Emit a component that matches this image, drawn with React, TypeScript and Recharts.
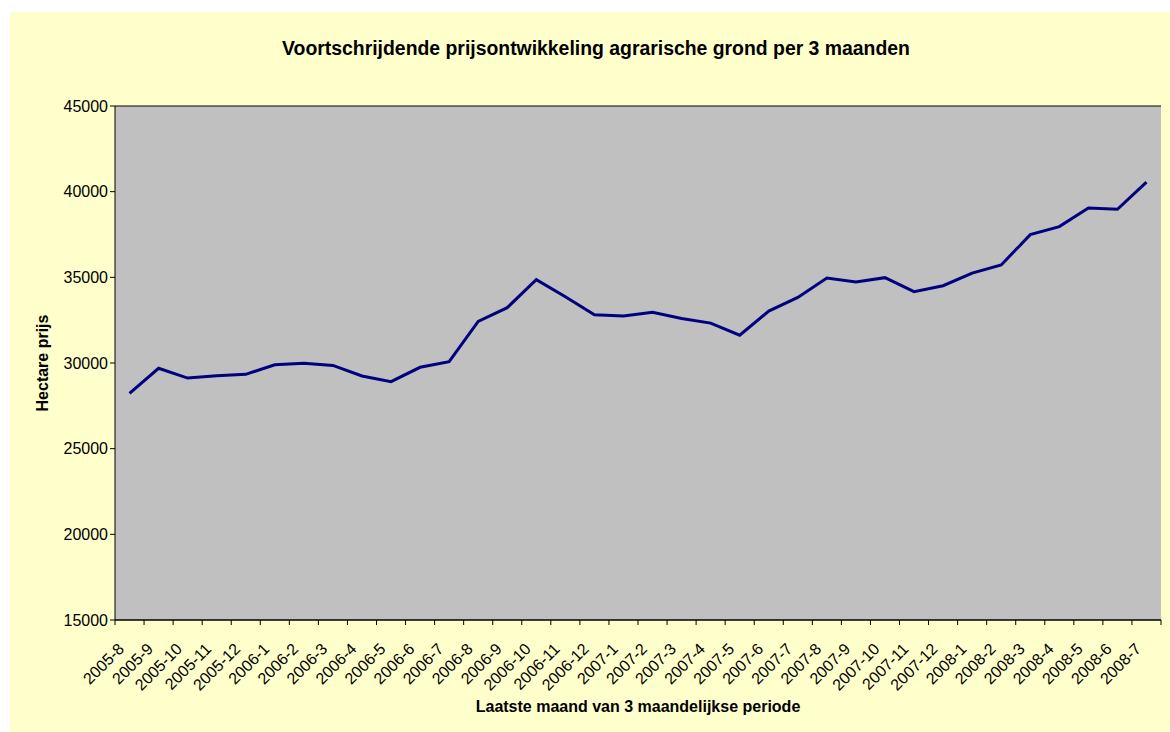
import { LineChart, Line, XAxis, YAxis, CartesianGrid } from 'recharts'

const months = [
  '2005-8', '2005-9', '2005-10', '2005-11', '2005-12',
  '2006-1', '2006-2', '2006-3', '2006-4', '2006-5', '2006-6',
  '2006-7', '2006-8', '2006-9', '2006-10', '2006-11', '2006-12',
  '2007-1', '2007-2', '2007-3', '2007-4', '2007-5', '2007-6',
  '2007-7', '2007-8', '2007-9', '2007-10', '2007-11', '2007-12',
  '2008-1', '2008-2', '2008-3', '2008-4', '2008-5', '2008-6', '2008-7',
]

const prices = [
  28230, 29690, 29120, 29260, 29340, 29900, 29980, 29860, 29240, 28910,
  29750, 30080, 32430, 33230, 34860, 33870, 32820, 32740, 32960, 32600,
  32330, 31620, 33030, 33830, 34960, 34730, 34980, 34160, 34510, 35250,
  35720, 37490, 37960, 39050, 38970, 40560,
]

const yTicks = [15000, 20000, 25000, 30000, 35000, 40000, 45000]

const W = 1160
const H = 720
const MARGIN = { top: 94, right: 9, bottom: 0, left: 0 }
const Y_W = 105
const X_H = 112
const PLOT_W = W - MARGIN.left - MARGIN.right - Y_W
const PLOT_BOTTOM = H - MARGIN.bottom - X_H
const BAND = PLOT_W / months.length

const font = '"Liberation Sans", Arial, sans-serif'

// Excel style: tick marks sit between the categories, labels at 45 degrees
function MonthTick(props: any) {
  const { x, payload, index } = props
  return (
    <g>
      {index === 0 && (
        <line x1={x - BAND / 2} x2={x - BAND / 2} y1={PLOT_BOTTOM} y2={PLOT_BOTTOM + 5} stroke="#000" />
      )}
      <line x1={x + BAND / 2} x2={x + BAND / 2} y1={PLOT_BOTTOM} y2={PLOT_BOTTOM + 5} stroke="#000" />
      <text
        transform={`translate(${x - 4.5},${PLOT_BOTTOM + 30}) rotate(-45)`}
        textAnchor="end"
        fontSize={16}
        fontFamily={font}
        fill="#000"
      >
        {payload.value}
      </text>
    </g>
  )
}

export default function App() {
  const data = months.map((m, i) => ({ month: m, prijs: prices[i] }))

  return (
    <div
      style={{
        position: 'absolute',
        left: 10,
        top: 12,
        width: W,
        height: H,
        background: '#FFFFCC',
        fontFamily: font,
      }}
    >
      <div
        style={{
          position: 'absolute',
          left: 0,
          width: 1172,
          top: 24,
          textAlign: 'center',
          fontSize: 19.4,
          fontWeight: 700,
          lineHeight: '24px',
        }}
      >
        Voortschrijdende prijsontwikkeling agrarische grond per 3 maanden
      </div>
      <div
        style={{
          position: 'absolute',
          left: 33 - 100,
          top: 351 - 10,
          width: 200,
          height: 20,
          lineHeight: '20px',
          textAlign: 'center',
          fontSize: 16,
          fontWeight: 700,
          transform: 'rotate(-90deg)',
        }}
      >
        Hectare prijs
      </div>
      <div
        style={{
          position: 'absolute',
          left: Y_W,
          width: PLOT_W,
          top: 685,
          lineHeight: '20px',
          textAlign: 'center',
          fontSize: 16,
          fontWeight: 700,
        }}
      >
        Laatste maand van 3 maandelijkse periode
      </div>
      <LineChart width={W} height={H} data={data} margin={MARGIN}>
        <CartesianGrid vertical={false} stroke="#000" fill="#C0C0C0" fillOpacity={1} />
        <XAxis
          dataKey="month"
          height={X_H}
          interval={0}
          padding={{ left: BAND / 2, right: BAND / 2 }}
          axisLine={{ stroke: '#000' }}
          tickLine={false}
          tick={<MonthTick />}
        />
        <YAxis
          yAxisId="left"
          width={Y_W}
          domain={[15000, 45000]}
          ticks={yTicks}
          interval={0}
          axisLine={{ stroke: '#000' }}
          tickLine={{ stroke: '#000' }}
          tickSize={5}
          tick={{ fill: '#000', fontSize: 16, fontFamily: font }}
        />
        <YAxis
          yAxisId="right"
          orientation="right"
          width={0}
          domain={[15000, 45000]}
          tick={false}
          tickLine={false}
          axisLine={{ stroke: '#808080' }}
        />
        <Line
          yAxisId="left"
          type="linear"
          dataKey="prijs"
          stroke="#000080"
          strokeWidth={3}
          dot={false}
          isAnimationActive={false}
        />
      </LineChart>
    </div>
  )
}
